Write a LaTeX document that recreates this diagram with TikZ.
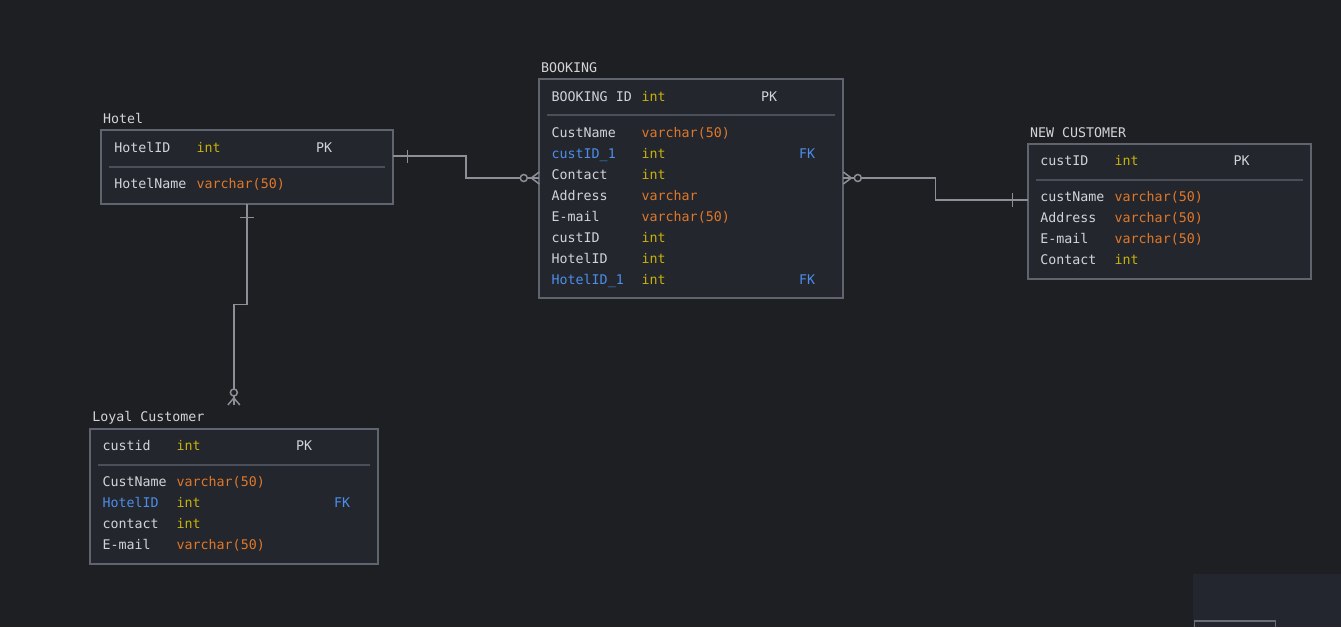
\documentclass[tikz,border=0pt]{standalone}
\usepackage{fontspec}
\setmonofont{DejaVu Sans Mono}
\usetikzlibrary{calc}
\definecolor{bg}{HTML}{1E1F23}
\definecolor{boxfill}{HTML}{23262D}
\definecolor{boxline}{HTML}{60646E}
\definecolor{sepline}{HTML}{4B4F59}
\definecolor{connc}{HTML}{8C8F97}
\definecolor{txt}{HTML}{D2D4D8}
\definecolor{tint}{HTML}{C8B20A}
\definecolor{tvar}{HTML}{E0782A}
\definecolor{tfk}{HTML}{4D8EEA}
\definecolor{panel}{HTML}{23262E}
\definecolor{panelline}{HTML}{6A6D75}
\tikzset{
 entity/.style={draw=boxline, line width=2.2pt, fill=boxfill, anchor=north west, inner sep=0pt, outer sep=0pt},
 fld/.style={anchor=base west, inner sep=0pt, outer sep=0pt, font=\ttfamily\fontsize{13.3}{16}\selectfont, text=txt},
 fkf/.style={fld, text=tfk},
 ti/.style={fld, text=tint},
 tv/.style={fld, text=tvar},
 sepl/.style={draw=sepline, line width=1.8pt},
 link/.style={draw=connc, line width=1.5pt},
 ring/.style={draw=connc, line width=1.5pt, fill=bg},
}
\begin{document}
\begin{tikzpicture}[x=1pt,y=-1pt]
\useasboundingbox[fill=bg] (0,0) rectangle (1341,627);
% bottom-right panel
\fill[panel] (1193,574) rectangle (1341,627);
\draw[draw=panelline, line width=1.8pt] (1194.5,627) |- (1275.5,621) -- (1275.5,627);

% ---------- Hotel ----------
\node[entity, minimum width=291.7, minimum height=74.3] (hotel) at (101,130) {};
\node[fld] (hotelT) at (103,123.3) {Hotel};
\node[fld] (h1n) at (114.3,152.7) {HotelID};
\node[ti]  (h1t) at (196.7,152.7) {int};
\node[fld] (h1k) at (316,152.7) {PK};
\draw[sepl] ($(hotel.north west)+(8,37.3)$) -- ($(hotel.north east)+(-7.7,37.3)$);
\node[fld] (h2n) at (114.3,188.3) {HotelName};
\node[tv]  (h2t) at (196.7,188.3) {varchar(50)};

% ---------- Booking ----------
\node[entity, minimum width=304, minimum height=218.4] (booking) at (539.3,79.3) {};
\node[fld] (bookT) at (541,72.3) {BOOKING};
\node[fld] (b0n) at (551.7,101) {BOOKING ID};
\node[ti]  (b0t) at (641.7,101) {int};
\node[fld] (b0k) at (761,101) {PK};
\draw[sepl] ($(booking.north west)+(8,36)$) -- ($(booking.north east)+(-8,36)$);
\node[fld] (b1n) at (551.7,137.3) {CustName};
\node[tv]  (b1t) at (641.7,137.3) {varchar(50)};
\node[fkf] (b2n) at (551.7,158.3) {custID\_1};
\node[ti]  (b2t) at (641.7,158.3) {int};
\node[fkf] (b2k) at (799,158.3) {FK};
\node[fld] (b3n) at (551.7,179.3) {Contact};
\node[ti]  (b3t) at (641.7,179.3) {int};
\node[fld] (b4n) at (551.7,200.3) {Address};
\node[tv]  (b4t) at (641.7,200.3) {varchar};
\node[fld] (b5n) at (551.7,221.3) {E-mail};
\node[tv]  (b5t) at (641.7,221.3) {varchar(50)};
\node[fld] (b6n) at (551.7,242.3) {custID};
\node[ti]  (b6t) at (641.7,242.3) {int};
\node[fld] (b7n) at (551.7,263.3) {HotelID};
\node[ti]  (b7t) at (641.7,263.3) {int};
\node[fkf] (b8n) at (551.7,284.3) {HotelID\_1};
\node[ti]  (b8t) at (641.7,284.3) {int};
\node[fkf] (b8k) at (799,284.3) {FK};

% ---------- New Customer ----------
\node[entity, minimum width=283.3, minimum height=135.3] (newc) at (1027.7,144) {};
\node[fld] (newcT) at (1030,137.3) {NEW CUSTOMER};
\node[fld] (n0n) at (1040.3,165.3) {custID};
\node[ti]  (n0t) at (1114.7,165.3) {int};
\node[fld] (n0k) at (1233.7,165.3) {PK};
\draw[sepl] ($(newc.north west)+(8,36.3)$) -- ($(newc.north east)+(-8.3,36.3)$);
\node[fld] (n1n) at (1040.3,201.7) {custName};
\node[tv]  (n1t) at (1114.7,201.7) {varchar(50)};
\node[fld] (n2n) at (1040.3,222.7) {Address};
\node[tv]  (n2t) at (1114.7,222.7) {varchar(50)};
\node[fld] (n3n) at (1040.3,243.7) {E-mail};
\node[tv]  (n3t) at (1114.7,243.7) {varchar(50)};
\node[fld] (n4n) at (1040.3,264.7) {Contact};
\node[ti]  (n4t) at (1114.7,264.7) {int};

% ---------- Loyal Customer ----------
\node[entity, minimum width=287.7, minimum height=134.7] (loyal) at (90,429.3) {};
\node[fld] (loyalT) at (92.3,421.7) {Loyal Customer};
\node[fld] (l0n) at (102.7,450) {custid};
\node[ti]  (l0t) at (176.7,450) {int};
\node[fld] (l0k) at (296,450) {PK};
\draw[sepl] ($(loyal.north west)+(7.7,36)$) -- ($(loyal.north east)+(-7.7,36)$);
\node[fld] (l1n) at (102.7,486) {CustName};
\node[tv]  (l1t) at (176.7,486) {varchar(50)};
\node[fkf] (l2n) at (102.7,507) {HotelID};
\node[ti]  (l2t) at (176.7,507) {int};
\node[fkf] (l2k) at (334,507) {FK};
\node[fld] (l3n) at (102.7,528) {contact};
\node[ti]  (l3t) at (176.7,528) {int};
\node[fld] (l4n) at (102.7,549) {E-mail};
\node[tv]  (l4t) at (176.7,549) {varchar(50)};

% ---------- Connectors ----------
% Hotel -- Booking
\coordinate (hb1) at ($(hotel.east)+(0,-11)$);
\coordinate (hb2) at ($(booking.west)+(0,-10.5)$);
\draw[link] (hb1) -| ($(hb1)!.5!(hb2)$) |- (hb2);
\draw[link] ($(hb1)+(15,-6.5)$) -- ($(hb1)+(15,6.5)$);
\draw[link] ($(hb2)+(-8,0)$) -- ($(hb2)+(0,-6)$);
\draw[link] ($(hb2)+(-8,0)$) -- ($(hb2)+(0,6)$);
\draw[ring] ($(hb2)+(-15.5,0)$) circle[radius=3.5];

% Booking -- New Customer
\coordinate (bn1) at ($(booking.east)+(0,-10.5)$);
\coordinate (bn2) at ($(newc.west)+(0,-11.7)$);
\draw[link] (bn1) -| ($(bn1)!.5!(bn2)$) |- (bn2);
\draw[link] ($(bn1)+(8,0)$) -- ($(bn1)+(0,-6)$);
\draw[link] ($(bn1)+(8,0)$) -- ($(bn1)+(0,6)$);
\draw[ring] ($(bn1)+(14.5,0)$) circle[radius=3.5];
\draw[link] ($(bn2)+(-15,-7)$) -- ($(bn2)+(-15,7)$);

% Hotel -- Loyal Customer
\coordinate (hl2) at ($(loyal.north)+(0,-24.3)$);
\draw[link] (hotel.south) |- ($(hotel.south)!.5!(hl2)$) -| (hl2);
\draw[link] ($(hotel.south)+(-7,13)$) -- ($(hotel.south)+(7,13)$);
\draw[link] ($(hl2)+(0,-7)$) -- ($(hl2)+(-6,0)$);
\draw[link] ($(hl2)+(0,-7)$) -- ($(hl2)+(6,0)$);
\draw[ring] ($(hl2)+(0,-12.5)$) circle[radius=3.5];
\end{tikzpicture}
\end{document}
